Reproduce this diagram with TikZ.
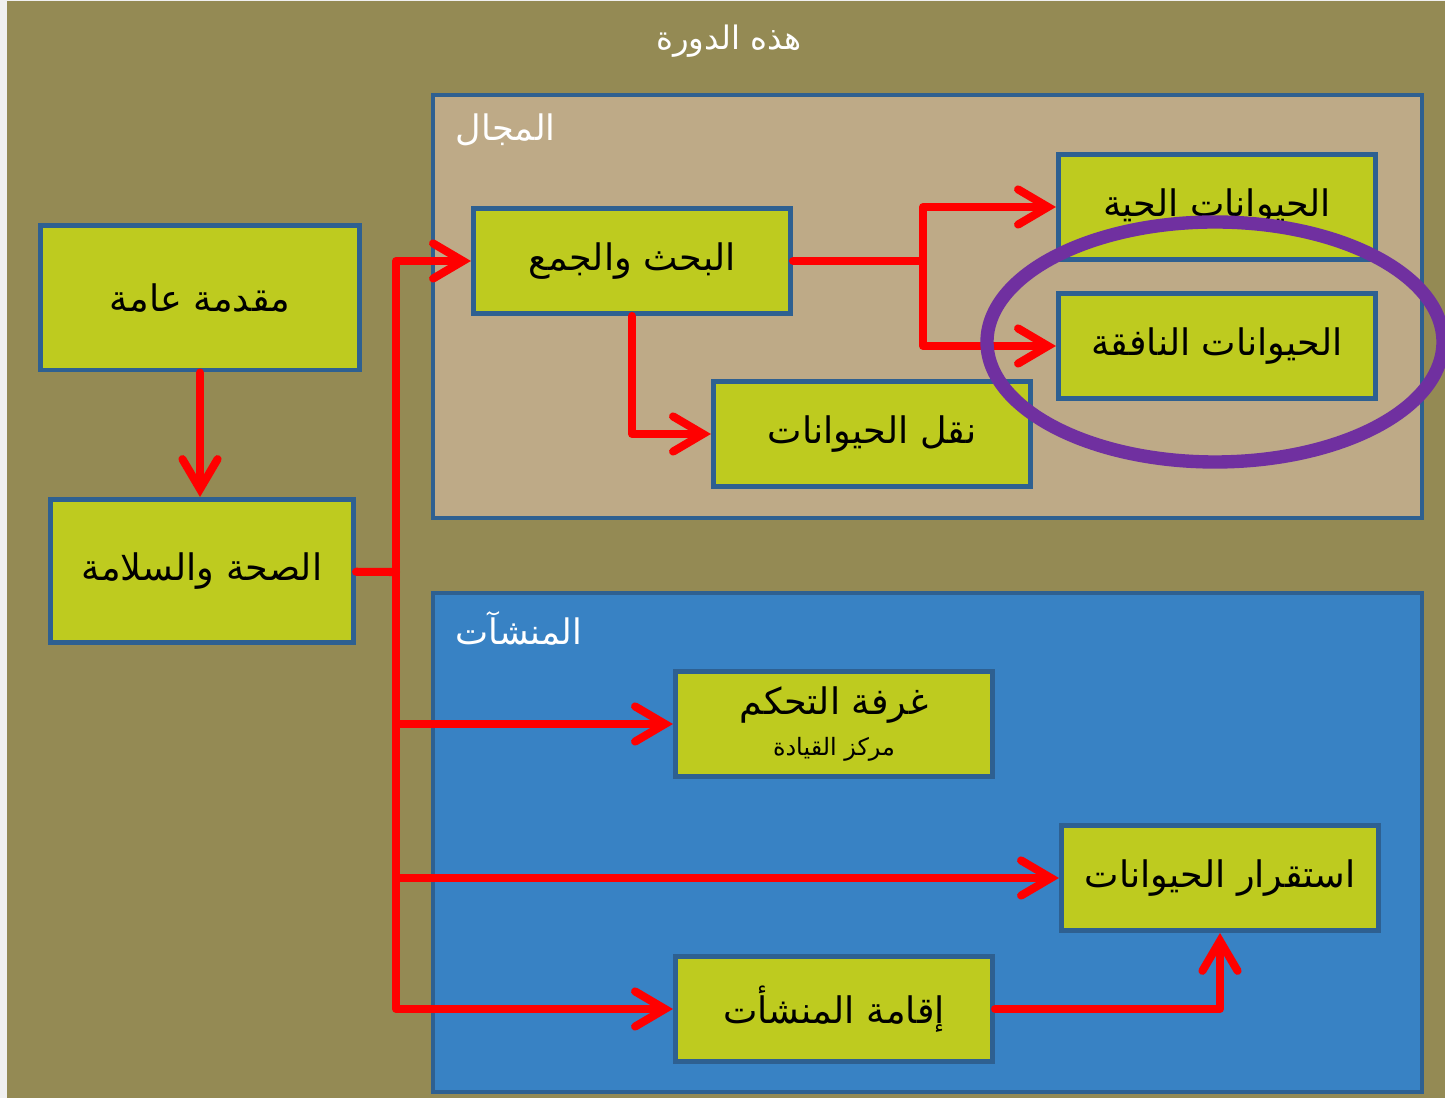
\documentclass[tikz,border=0pt]{standalone}
\usepackage{fontspec}
\usetikzlibrary{arrows.meta}
\TeXXeTstate=1
\newfontfamily\arabicfont[Script=Arabic]{DejaVu Sans}

\definecolor{olive}{HTML}{948A54}
\definecolor{tan}{HTML}{BEAA87}
\definecolor{panelblue}{HTML}{3882C4}
\definecolor{leaf}{HTML}{BECB1F}
\definecolor{edgeblue}{HTML}{2E6091}
\definecolor{ringpurple}{HTML}{7030A0}
\definecolor{strip}{HTML}{F0F0F0}

\tikzset{
  box/.style={draw=edgeblue,line width=1.4pt,fill=leaf,minimum width=3.17cm,
    minimum height=1.05cm,inner sep=0pt,font=\arabicfont\fontsize{10.4}{12.5}\selectfont},
  panel/.style={draw=edgeblue,line width=1.4pt},
  link/.style={draw=red,line width=2.3pt,line cap=round,line join=round},
  arr/.style={link,-{Straight Barb[length=8.5pt,width=10pt,line cap=round]}},
  head/.style={text=white,font=\arabicfont\fontsize{10}{12}\selectfont,inner sep=0pt}
}

\begin{document}
\begin{tikzpicture}[x=0.01cm,y=-0.01cm]
   \useasboundingbox (0,0) rectangle (1445,1098);
   \fill[strip] (0,0) rectangle (1445,1098);
   \fill[olive] (7,1) rectangle (1445,1098);

   \node[head,font=\arabicfont\fontsize{9.2}{11}\selectfont] (title) at (729,41) {\beginR هذه الدورة\endR};

   \draw[panel,fill=tan] (433,95) rectangle (1422,518);
   \draw[panel,fill=panelblue] (433,593) rectangle (1422,1092);
   \node[head,anchor=west] (field) at (455,130) {\beginR المجال\endR};
   \node[head,anchor=west] (sites) at (455,628) {\beginR المنشآت\endR};

   \node[box,minimum width=3.18cm,minimum height=1.44cm] (intro) at (200,298) {\beginR مقدمة عامة\endR};
   \node[box,minimum width=3.03cm,minimum height=1.43cm] (safety) at (202,571) {\beginR الصحة والسلامة\endR};
   \node[box] (search) at (632,261) {\beginR البحث والجمع\endR};
   \node[box] (live) at (1217,207) {\beginR الحيوانات الحية\endR};
   \node[box] (dead) at (1217,346) {\beginR الحيوانات النافقة\endR};
   \node[box] (transport) at (872,434) {\beginR نقل الحيوانات\endR};
   \node[box,align=center] (control) at (834,724) {\beginR غرفة التحكم\endR\\[-1pt]
      {\fontsize{6.8}{8}\selectfont\beginR مركز القيادة\endR}};
   \node[box] (housing) at (1220,878) {\beginR استقرار الحيوانات\endR};
   \node[box] (build) at (834,1009) {\beginR إقامة المنشأت\endR};

   \coordinate (trunk) at (396,572);
   \coordinate (split) at (923,261);

   % links
   \draw[arr] (intro.south) -- (intro.south |- safety.north);
   \draw[link] (safety) -- (trunk);
   \draw[arr] (trunk) |- (search);
   \draw[arr] (trunk) |- (control);
   \draw[arr] (trunk) |- (housing);
   \draw[arr] (trunk) |- (build);
   \draw[link] (search) -- (split);
   \draw[arr] (split) |- (live);
   \draw[arr] (split) |- (dead);
   \draw[arr] (search.south) |- (transport);
   \draw[arr] (build) -| (housing);

   \draw[ringpurple,line width=3.8pt] (1215,342) ellipse (228 and 120);
\end{tikzpicture}
\end{document}
